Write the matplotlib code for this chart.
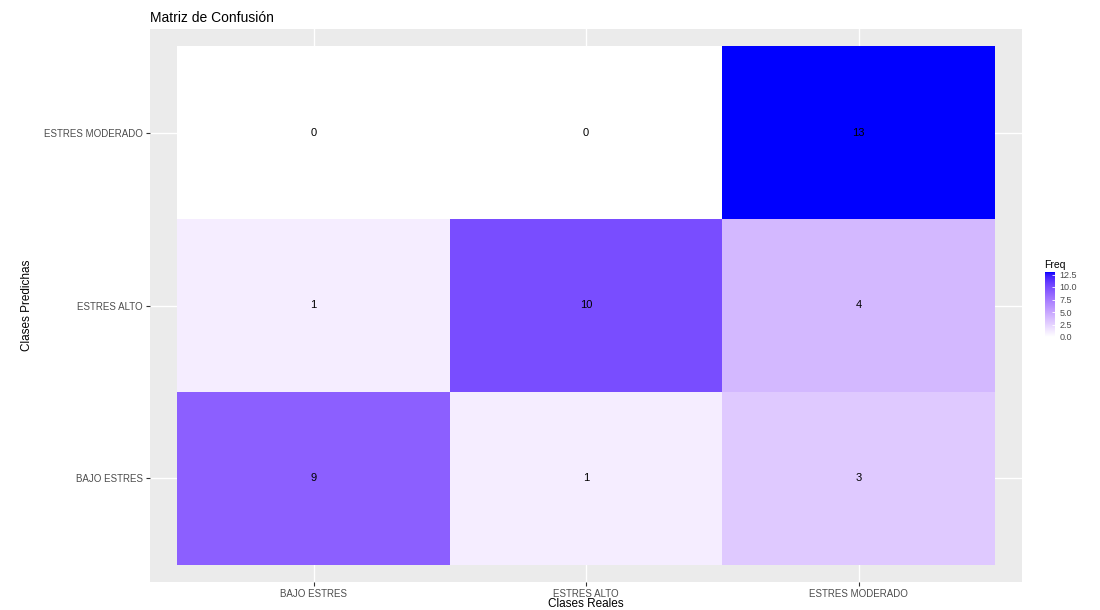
import numpy as np
import matplotlib
matplotlib.use("Agg")
import matplotlib.pyplot as plt
from matplotlib.colors import ListedColormap

plt.rcParams['font.family'] = ['Liberation Sans', 'DejaVu Sans']

# ---- data ----
real_classes = ["BAJO ESTRES", "ESTRES ALTO", "ESTRES MODERADO"]
pred_classes = ["BAJO ESTRES", "ESTRES ALTO", "ESTRES MODERADO"]
# rows = predicted class, columns = real class
freq_pred_bajo = [9, 1, 3]
freq_pred_alto = [1, 10, 4]
freq_pred_moderado = [0, 0, 13]
cbar_ticks = [0.0, 2.5, 5.0, 7.5, 10.0, 12.5]

freq = np.array([freq_pred_bajo, freq_pred_alto, freq_pred_moderado], dtype=float)

# ---- Lab gradient white -> blue (like ggplot scale_fill_gradient) ----
def srgb_to_lab(rgb):
    rgb = np.asarray(rgb, float)
    lin = np.where(rgb <= 0.04045, rgb / 12.92, ((rgb + 0.055) / 1.055) ** 2.4)
    M = np.array([[0.4124, 0.3576, 0.1805], [0.2126, 0.7152, 0.0722], [0.0193, 0.1192, 0.9505]])
    xyz = M @ lin
    wp = np.array([0.95047, 1.0, 1.08883])
    t = xyz / wp
    f = np.where(t > (6 / 29) ** 3, np.cbrt(t), t / (3 * (6 / 29) ** 2) + 4 / 29)
    return np.array([116 * f[1] - 16, 500 * (f[0] - f[1]), 200 * (f[1] - f[2])])

def lab_to_srgb(lab):
    L, a, b = lab
    fy = (L + 16) / 116
    fx = fy + a / 500
    fz = fy - b / 200
    def finv(t):
        return np.where(t > 6 / 29, t ** 3, 3 * (6 / 29) ** 2 * (t - 4 / 29))
    wp = np.array([0.95047, 1.0, 1.08883])
    xyz = np.array([finv(fx), finv(fy), finv(fz)]) * wp
    Minv = np.array([[3.2406, -1.5372, -0.4986], [-0.9689, 1.8758, 0.0415], [0.0557, -0.2040, 1.0570]])
    lin = Minv @ xyz
    lin = np.clip(lin, 0, 1)
    rgb = np.where(lin <= 0.0031308, 12.92 * lin, 1.055 * lin ** (1 / 2.4) - 0.055)
    return np.clip(rgb, 0, 1)

lab_lo = srgb_to_lab([1, 1, 1])
lab_hi = srgb_to_lab([0, 0, 1])
cols = [lab_to_srgb(lab_lo + (lab_hi - lab_lo) * t) for t in np.linspace(0, 1, 256)]
cmap = ListedColormap(cols)

vmin, vmax = 0, freq.max()

fig = plt.figure(figsize=(11, 6.1), dpi=100)
ax = fig.add_axes([150 / 1100, 1 - 582 / 610, 872 / 1100, 553 / 610])
ax.set_facecolor("#EBEBEB")

xs = np.arange(1, len(real_classes) + 1)
ys = np.arange(1, len(pred_classes) + 1)
edges_x = np.arange(0.5, len(real_classes) + 1)
edges_y = np.arange(0.5, len(pred_classes) + 1)

ax.set_xlim(0.4, len(real_classes) + 0.6)
ax.set_ylim(0.4, len(pred_classes) + 0.6)
ax.set_xticks(xs)
ax.set_yticks(ys)
ax.grid(True, color="white", linewidth=1.0)
ax.set_axisbelow(True)

mesh = ax.pcolormesh(edges_x, edges_y, freq, cmap=cmap, vmin=vmin, vmax=vmax, zorder=2)

for i, yv in enumerate(ys):
    for j, xv in enumerate(xs):
        ax.text(xv, yv, f"{int(freq[i, j])}", ha="center", va="center",
                fontsize=8, color="black", zorder=3)

ax.set_xticklabels(real_classes, fontsize=7, color="#4D4D4D")
ax.set_yticklabels(pred_classes, fontsize=7, color="#4D4D4D")
ax.tick_params(axis="both", length=3, width=0.8, color="#333333", pad=2)
for s in ax.spines.values():
    s.set_visible(False)

ax.set_xlabel("Clases Reales", fontsize=8.5, labelpad=-1, color="black")
ax.set_ylabel("Clases Predichas", fontsize=8.5, labelpad=8, color="black")
ax.set_title("Matriz de Confusión", fontsize=10, loc="left", pad=5, color="black")

# colorbar
cax = fig.add_axes([1045 / 1100, 1 - 337 / 610, 10 / 1100, 65 / 610])
cb = fig.colorbar(mesh, cax=cax, ticks=cbar_ticks)
cb.outline.set_visible(False)
cb.ax.set_yticklabels([f"{t:.1f}" for t in cbar_ticks], fontsize=6.5, color="#4D4D4D")
cb.ax.tick_params(length=2, width=0.6, color="white", direction="in", pad=3)
cb.ax.set_title("Freq", fontsize=7.5, loc="left", pad=3, x=-0.1)

fig.savefig("out.png", dpi=100, facecolor="white")
